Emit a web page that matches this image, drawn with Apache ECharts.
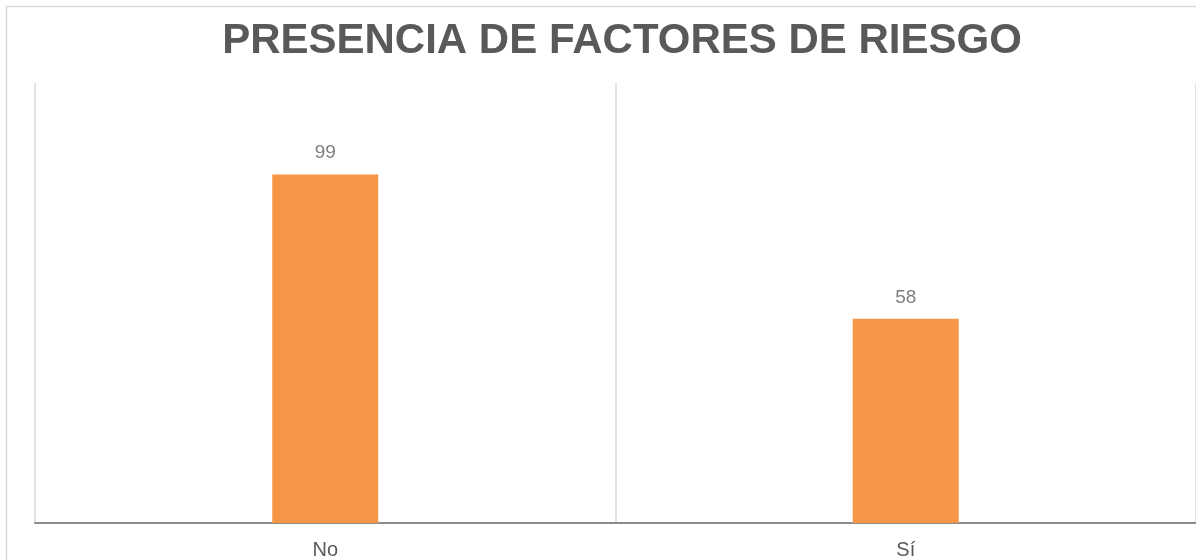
<!DOCTYPE html>
<html>
<head>
<meta charset="utf-8">
<script src="https://cdn.jsdelivr.net/npm/echarts@6/dist/echarts.min.js"></script>
<style>
  html, body { margin: 0; padding: 0; background: #ffffff; }
  #chart { width: 1196px; height: 560px; }
</style>
</head>
<body>
<div id="chart"></div>
<script>
// Risk factor presence counts
const categories = ['No', 'Sí'];
const counts = [99, 58];
const chartTitle = 'PRESENCIA DE FACTORES DE RIESGO';

const chart = echarts.init(document.getElementById('chart'));

chart.setOption({
  animation: false,
  backgroundColor: '#ffffff',
  textStyle: { fontFamily: 'Liberation Sans, Arial, sans-serif' },
  title: {
    text: chartTitle,
    left: 617,
    top: 15,
    textAlign: 'center',
    textStyle: {
      fontFamily: 'Liberation Sans, Arial, sans-serif',
      fontSize: 42,
      fontWeight: 'bold',
      color: '#595959'
    }
  },
  graphic: [{
    type: 'rect',
    shape: { x: 6.5, y: 6.5, width: 1220, height: 600 },
    style: { fill: 'none', stroke: '#d9d9d9', lineWidth: 1.5 },
    silent: true,
    z: -1
  }],
  grid: { left: 35, right: -4, top: 83, bottom: 37 },
  xAxis: {
    type: 'category',
    data: categories,
    boundaryGap: true,
    axisLine: { show: true, lineStyle: { color: '#8c8c8c', width: 2 } },
    axisTick: { show: false },
    splitLine: { show: true, lineStyle: { color: '#d9d9d9', width: 1.5 } },
    axisLabel: {
      color: '#595959',
      fontSize: 20,
      margin: 17,
      fontFamily: 'Liberation Sans, Arial, sans-serif'
    }
  },
  yAxis: {
    type: 'value',
    min: 0,
    max: 125,
    show: false,
    splitLine: { show: false }
  },
  series: [{
    type: 'bar',
    data: counts,
    barWidth: 106,
    itemStyle: { color: '#f79646' },
    label: {
      show: true,
      position: 'top',
      distance: 12,
      color: '#7f7f7f',
      fontSize: 19,
      fontFamily: 'Liberation Sans, Arial, sans-serif'
    }
  }]
});
</script>
</body>
</html>
